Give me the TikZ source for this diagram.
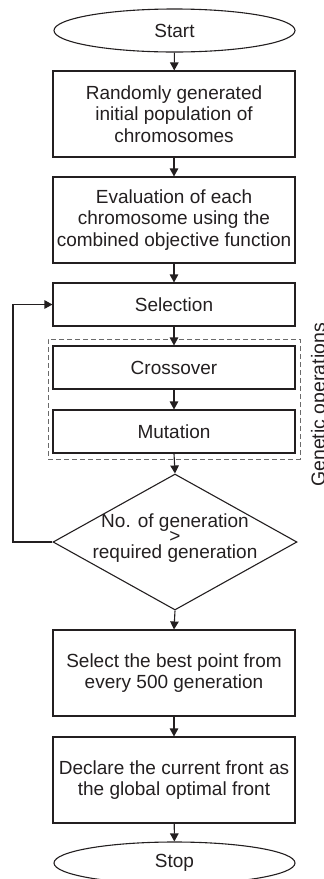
\documentclass[tikz,border=0pt]{standalone}
\usepackage{fontspec}
\setmainfont{Liberation Sans}
\usetikzlibrary{shapes.geometric,arrows.meta}
\definecolor{ink}{HTML}{231F20}
\definecolor{dashgray}{HTML}{6A6A6A}
\begin{document}
\begin{tikzpicture}[x=1pt,y=1pt,
  base/.style={draw=ink, line width=1.1pt, text=ink, font=\fontsize{19}{21.5}\selectfont, align=center, inner sep=0pt},
  procbox/.style={base, rectangle, minimum width=242pt},
  tallbox/.style={procbox, minimum height=86pt},
  shortbox/.style={procbox, minimum height=43pt},
  term/.style={base, ellipse, minimum width=241pt, minimum height=43pt},
  decis/.style={base, diamond, minimum width=244pt, minimum height=136pt},
  flow/.style={draw=ink, line width=1.1pt, -{Triangle[length=8pt,width=8.5pt]}},
  groupbox/.style={draw=dashgray, line width=0.8pt, dash pattern=on 5pt off 3pt},
]
\useasboundingbox (0,0) rectangle (324,-879);

\node[term] (start) at (174.5,-30.5) {Start};
\node[tallbox] (init) at (174,-114) {Randomly generated\\initial population of\\chromosomes};
\node[tallbox] (eval) at (174,-220) {Evaluation of each\\chromosome using the\\combined objective function};
\node[shortbox] (sel) at (174,-304.5) {Selection};
\node[shortbox] (cross) at (174,-367.5) {Crossover};
\node[shortbox] (mut) at (174,-431.5) {Mutation};
\node[groupbox, rectangle, minimum width=252pt, minimum height=120pt, inner sep=0pt] (gen) at (174,-399) {};
\node[decis] (dec) at (175,-542) {};
\node[text=ink, align=center, inner sep=0pt, font=\fontsize{19}{15.5}\selectfont] (dectxt) at (175,-538) {No. of generation\\>\\required generation};
\node[tallbox] (best) at (174,-673) {Select the best point from\\every 500 generation};
\node[tallbox] (decl) at (174,-780) {Declare the current front as\\the global optimal front};
\node[term, minimum height=42pt] (stop) at (174.5,-863) {Stop};

\node[rotate=90, anchor=base, text=ink, inner sep=0pt, font=\fontsize{19.5}{21.5}\selectfont] (genlbl) at (325,-405) {Genetic operations};

\coordinate (loop) at (13,-542);

\draw[flow] (start) -- (init);
\draw[flow] (init) -- (eval);
\draw[flow] (eval) -- (sel);
\draw[flow] (sel) -- (cross);
\draw[flow] (cross) -- (mut);
\draw[flow] (mut.south) -- (dec.north);
\draw[flow] (dec.south) -- (best.north);
\draw[flow] (best) -- (decl);
\draw[flow] (decl) -- (stop);
\draw[flow] (dec.west) -- (loop) |- (sel.west);
\end{tikzpicture}
\end{document}
